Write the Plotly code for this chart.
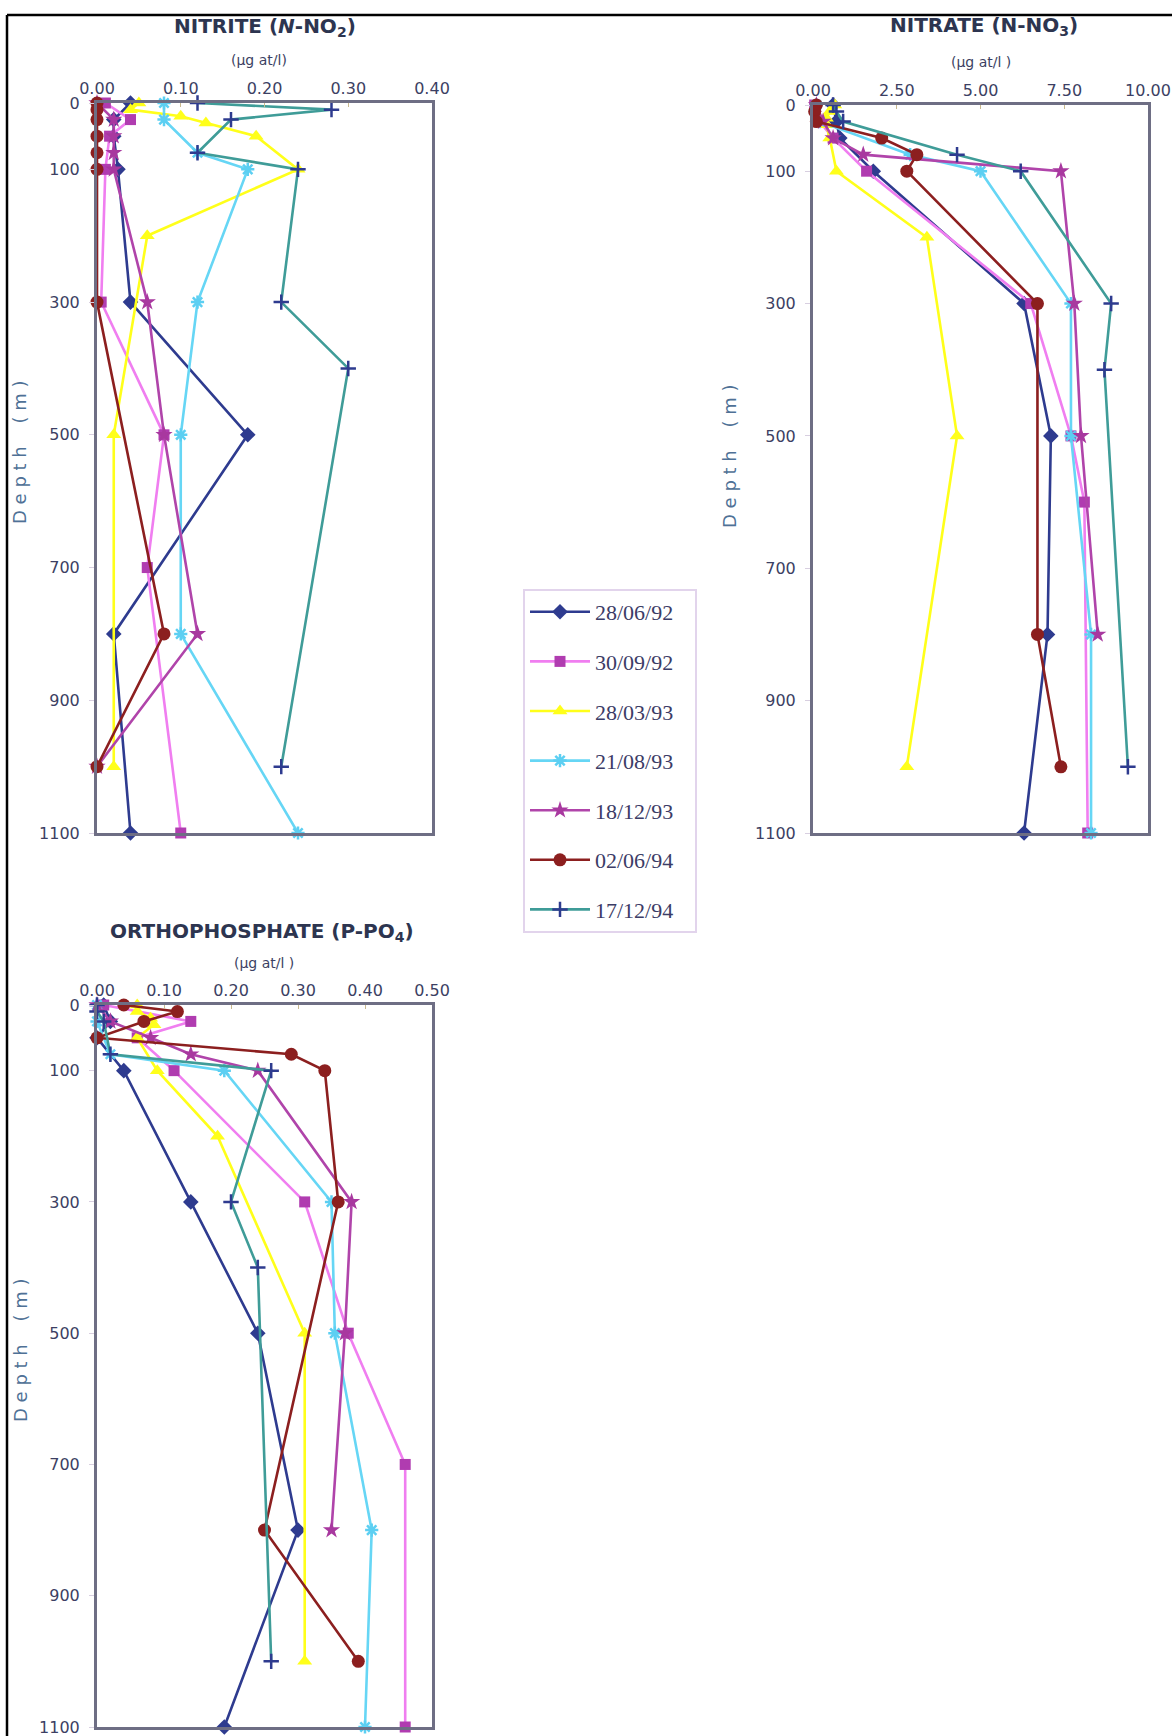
import plotly.graph_objects as go

# ---------------- data ----------------
DATES = ["28/06/92", "30/09/92", "28/03/93", "21/08/93", "18/12/93", "02/06/94", "17/12/94"]

DEPTH_TICKS = [0, 100, 300, 500, 700, 900, 1100]
NITRITE_TICKS = [0.0, 0.1, 0.2, 0.3, 0.4]
NITRATE_TICKS = [0.0, 2.5, 5.0, 7.5, 10.0]
PHOSPHATE_TICKS = [0.0, 0.1, 0.2, 0.3, 0.4, 0.5]

DEPTH_280692 = [0, 25, 50, 100, 300, 500, 800, 1100]
NITRITE_280692 = [0.04, 0.02, 0.02, 0.025, 0.04, 0.18, 0.02, 0.04]
NITRATE_280692 = [0.6, 0.7, 0.8, 1.8, 6.3, 7.1, 7.0, 6.3]
PHOSPHATE_280692 = [0.01, 0.02, 0.0, 0.04, 0.14, 0.24, 0.30, 0.19]

DEPTH_300992 = [0, 25, 50, 100, 300, 500, 600, 700, 1100]
NITRITE_300992 = [0.01, 0.04, 0.015, 0.01, 0.005, 0.08, None, 0.06, 0.10]
NITRATE_300992 = [0.05, 0.2, 0.6, 1.6, 6.5, 7.7, 8.1, None, 8.2]
PHOSPHATE_300992 = [0.01, 0.14, 0.06, 0.115, 0.31, 0.375, None, 0.46, 0.46]

DEPTH_280393 = [0, 10, 20, 30, 50, 100, 200, 500, 1000]
NITRITE_280393 = [0.05, 0.04, 0.10, 0.13, 0.19, 0.24, 0.06, 0.02, 0.02]
NITRATE_280393 = [0.65, 0.5, 0.4, 0.4, 0.5, 0.7, 3.4, 4.3, 2.8]
PHOSPHATE_280393 = [0.06, 0.06, 0.08, 0.085, 0.06, 0.09, 0.18, 0.31, 0.31]

DEPTH_210893 = [0, 25, 75, 100, 300, 500, 800, 1100]
NITRITE_210893 = [0.08, 0.08, 0.12, 0.18, 0.12, 0.10, 0.10, 0.24]
NITRATE_210893 = [0.1, 0.2, 2.9, 5.0, 7.7, 7.7, 8.3, 8.3]
PHOSPHATE_210893 = [0.0, 0.0, 0.02, 0.19, 0.35, 0.355, 0.41, 0.40]

DEPTH_181293 = [0, 25, 50, 75, 100, 300, 500, 800, 1000]
NITRITE_181293 = [0.0, 0.02, 0.02, 0.02, 0.02, 0.06, 0.08, 0.12, 0.0]
NITRATE_181293 = [0.1, 0.3, 0.6, 1.5, 7.4, 7.8, 8.0, 8.5, None]
PHOSPHATE_181293 = [0.0, 0.02, 0.08, 0.14, 0.24, 0.38, 0.37, 0.35, None]

DEPTH_020694 = [0, 10, 25, 50, 75, 100, 300, 800, 1000]
NITRITE_020694 = [0.0, 0.0, 0.0, 0.0, 0.0, 0.0, 0.0, 0.08, 0.0]
NITRATE_020694 = [0.1, 0.05, 0.1, 2.05, 3.1, 2.8, 6.7, 6.7, 7.4]
PHOSPHATE_020694 = [0.04, 0.12, 0.07, 0.0, 0.29, 0.34, 0.36, 0.25, 0.39]

DEPTH_171294 = [0, 10, 25, 75, 100, 300, 400, 1000]
NITRITE_171294 = [0.12, 0.28, 0.16, 0.12, 0.24, 0.22, 0.30, 0.22]
NITRATE_171294 = [0.6, 0.7, 0.9, 4.3, 6.2, 8.9, 8.7, 9.4]
PHOSPHATE_171294 = [0.0, 0.0, 0.01, 0.02, 0.26, 0.20, 0.24, 0.26]

STATIONS = [
    (DEPTH_280692, NITRITE_280692, NITRATE_280692, PHOSPHATE_280692),
    (DEPTH_300992, NITRITE_300992, NITRATE_300992, PHOSPHATE_300992),
    (DEPTH_280393, NITRITE_280393, NITRATE_280393, PHOSPHATE_280393),
    (DEPTH_210893, NITRITE_210893, NITRATE_210893, PHOSPHATE_210893),
    (DEPTH_181293, NITRITE_181293, NITRATE_181293, PHOSPHATE_181293),
    (DEPTH_020694, NITRITE_020694, NITRATE_020694, PHOSPHATE_020694),
    (DEPTH_171294, NITRITE_171294, NITRATE_171294, PHOSPHATE_171294),
]

# ---------------- styles ----------------
STYLES = [
    dict(line="#2e3b8f", mcolor="#2e3b8f", symbol="diamond", size=12, mline=0),
    dict(line="#f07ef0", mcolor="#b03cb0", symbol="square", size=11, mline=0),
    dict(line="#ffff1a", mcolor="#ffff1a", symbol="triangle-up", size=13, mline=0),
    dict(line="#66d6f5", mcolor="#5ccff2", symbol="asterisk-open", size=11, mline=2.5),
    dict(line="#b044aa", mcolor="#a8389f", symbol="star", size=13, mline=0),
    dict(line="#8c1f1f", mcolor="#8c1f1f", symbol="circle", size=13, mline=0),
    dict(line="#3f9c98", mcolor="#2e3b8f", symbol="cross-thin-open", size=11, mline=2.5),
]

W, H = 1172, 1736
PAD = "\u00a0\u00a0\u00a0"


def px(x):
    return x / W


def py(y):
    return 1 - y / H


fig = go.Figure()

panels = [("x", "y"), ("x2", "y2"), ("x3", "y3")]
for i, (date, st, sty) in enumerate(zip(DATES, STATIONS, STYLES)):
    depth = st[0]
    for k, (xa, ya) in enumerate(panels):
        vals = st[k + 1]
        fig.add_trace(go.Scatter(
            x=vals, y=depth, xaxis=xa, yaxis=ya,
            mode="lines+markers", name=date + PAD, legendgroup=date,
            showlegend=(k == 0), connectgaps=True, cliponaxis=False,
            line=dict(color=sty["line"], width=2.6),
            marker=dict(symbol=sty["symbol"], size=sty["size"], color=sty["mcolor"],
                        line=dict(width=sty["mline"], color=sty["mcolor"])),
        ))

TICKFONT = dict(family="DejaVu Sans", size=16, color="#3c3f63")
AXLINE = dict(showline=True, mirror=True, linecolor="#6e6e84", linewidth=3,
              showgrid=False, zeroline=False)


def xaxis_cfg(x0, x1, rng, tickvals, fmt, anchor):
    return dict(domain=[px(x0), px(x1)], anchor=anchor, side="top", range=rng,
                tickvals=tickvals, ticktext=[fmt.format(v) for v in tickvals],
                ticks="inside", ticklen=4, tickcolor="#c9b98f", tickfont=TICKFONT,
                ticklabeloverflow="allow",
                fixedrange=True, automargin=False, **AXLINE)


def yaxis_cfg(y0, y1, anchor):
    return dict(domain=[py(y1), py(y0)], anchor=anchor, range=[1100, 0],
                tickvals=DEPTH_TICKS, ticktext=[str(v) for v in DEPTH_TICKS],
                ticks="outside", ticklen=5, tickcolor="#d8cfe0", tickfont=TICKFONT,
                ticklabelstandoff=6, ticklabeloverflow="allow",
                fixedrange=True, automargin=False, **AXLINE)


fig.update_layout(
    width=W, height=H, autosize=False,
    margin=dict(l=0, r=0, t=0, b=0, pad=0, autoexpand=False),
    paper_bgcolor="white", plot_bgcolor="white",
    xaxis=xaxis_cfg(97, 432, [0, 0.4], NITRITE_TICKS, "{:.2f}", "y"),
    yaxis=yaxis_cfg(103, 833, "x"),
    xaxis2=xaxis_cfg(813, 1148, [0, 10], NITRATE_TICKS, "{:.2f}", "y2"),
    yaxis2=yaxis_cfg(105, 833, "x2"),
    xaxis3=xaxis_cfg(97, 432, [0, 0.5], PHOSPHATE_TICKS, "{:.2f}", "y3"),
    yaxis3=yaxis_cfg(1005, 1727, "x3"),
    legend=dict(x=px(523), y=py(589), xanchor="left", yanchor="top",
                bgcolor="white", bordercolor="#e2d4ec", borderwidth=2,
                font=dict(family="Liberation Serif", size=22, color="#3c3c66"),
                tracegroupgap=18, itemwidth=60),
    showlegend=True,
)

TITLE_FONT = dict(family="DejaVu Sans", size=20, color="#2d3550")
SUB_FONT = dict(family="DejaVu Sans", size=14, color="#3c3f63")
DEPTH_FONT = dict(family="DejaVu Sans", size=18, color="#4f7196")

annos = [
    (265, 27, "<b>NITRITE (<i>N</i>-NO<sub>2</sub>)</b>", TITLE_FONT, 0),
    (259, 60, "(µg at/l)", SUB_FONT, 0),
    (984, 26, "<b>NITRATE (N-NO<sub>3</sub>)</b>", TITLE_FONT, 0),
    (981, 62, "(µg at/l )", SUB_FONT, 0),
    (262, 932, "<b>ORTHOPHOSPHATE (P-PO<sub>4</sub>)</b>", TITLE_FONT, 0),
    (264, 963, "(µg at/l )", SUB_FONT, 0),
    (20, 452, "D e p t h    ( m )", DEPTH_FONT, -90),
    (730, 456, "D e p t h    ( m )", DEPTH_FONT, -90),
    (20, 1350, "D e p t h    ( m )", DEPTH_FONT, -90),
]
for x, y, t, f, ang in annos:
    fig.add_annotation(x=px(x), y=py(y), xref="paper", yref="paper", text=t,
                       showarrow=False, font=f, textangle=ang,
                       xanchor="center", yanchor="middle")

# outer frame (top and left edges)
fig.add_shape(type="line", xref="paper", yref="paper", x0=px(7), x1=1, y0=py(15), y1=py(15),
              line=dict(color="black", width=2.5))
fig.add_shape(type="line", xref="paper", yref="paper", x0=px(7), x1=px(7), y0=py(15), y1=0,
              line=dict(color="black", width=2.5))

fig.write_html("out.html", config={"responsive": False, "displayModeBar": False},
               post_script="document.body.style.margin='0';document.body.style.overflow='hidden';")
